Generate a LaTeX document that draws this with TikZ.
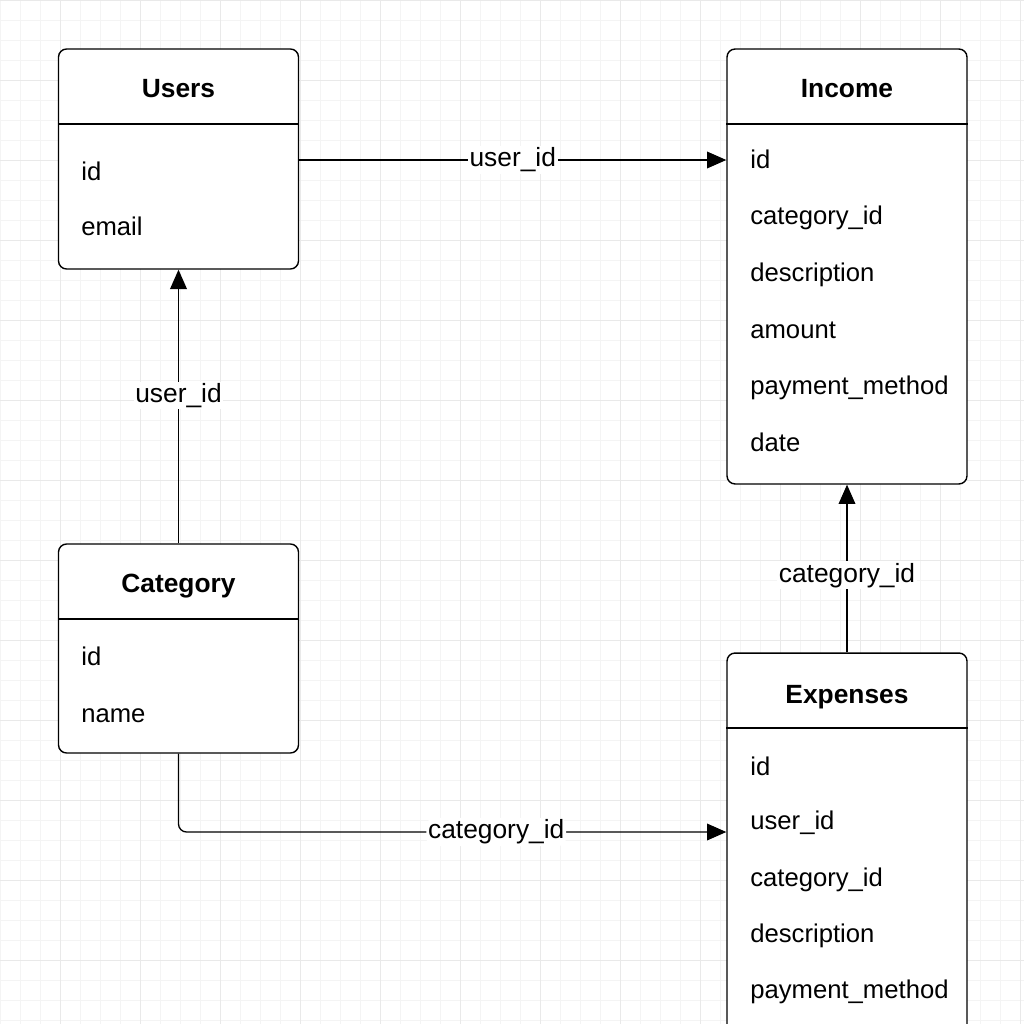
\documentclass[tikz,border=0pt]{standalone}
\usepackage{fontspec}
\setmainfont{Liberation Sans}
\usetikzlibrary{arrows.meta}
\definecolor{gridminor}{HTML}{F4F4F4}
\definecolor{gridmajor}{HTML}{E9E9E9}

\begin{document}
\begin{tikzpicture}[x=0.02cm,y=-0.02cm,
	entity/.style={draw,line width=0.8pt,rounded corners=0.16cm,minimum width=4.8cm,inner sep=0pt},
	title/.style={anchor=base,font=\fontsize{15}{18}\selectfont\bfseries},
	field/.style={anchor=base west,inner sep=0pt,font=\fontsize{14.6}{18}\selectfont},
	link/.style={line width=0.75pt,-{Triangle[length=11pt,width=9.5pt]}},
	key/.style={fill=white,inner sep=1pt,font=\fontsize{15}{18}\selectfont}]
\useasboundingbox (0,0) rectangle (1024,1024);
\clip (0,0) rectangle (1024,1024);
\fill[white] (0,0) rectangle (1024,1024);
\foreach \g in {0,20,...,1020}{
	\draw[gridminor,line width=0.5pt] (\g,0) -- (\g,1024);
	\draw[gridminor,line width=0.5pt] (0,\g) -- (1024,\g);
}
\foreach \g in {60,140,...,1020}
	\draw[gridmajor,line width=0.5pt] (\g,0) -- (\g,1024);
\foreach \g in {0,80,...,1020}
	\draw[gridmajor,line width=0.5pt] (0,\g) -- (1024,\g);

\path (178.5,159) node[entity,fill=white,minimum height=4.4cm](users){}
		(847,266.5) node[entity,fill=white,minimum height=8.7cm](income){}
		(178.5,648.5) node[entity,fill=white,minimum height=4.18cm](category){}
		(847,863) node[entity,fill=white,minimum height=8.4cm](expenses){}
		;
\draw[line width=0.8pt] (users.west |- 0,124) -- (users.east |- 0,124);
\draw[line width=0.8pt] (income.west |- 0,124) -- (income.east |- 0,124);
\draw[line width=0.8pt] (category.west |- 0,619) -- (category.east |- 0,619);
\draw[line width=0.8pt] (expenses.west |- 0,728) -- (expenses.east |- 0,728);

\path (178.5,97) node[title](users title){Users}
		(81,180) node[field](users id){id}
		(81,235) node[field](users email){email}
		;
\path (847,98) node[title](income title){Income}
		(750,168) node[field](income id){id}
		(750,224) node[field](income cat){category\_id}
		(750,281) node[field](income desc){description}
		(750,338) node[field](income amount){amount}
		(750,394) node[field](income pay){payment\_method}
		(750,451) node[field](income date){date}
		;
\path (178.5,592) node[title](category title){Category}
		(81,665) node[field](category id){id}
		(81,722) node[field](category name){name}
		;
\path (847,703) node[title](expenses title){Expenses}
		(750,775) node[field](expenses id){id}
		(750,829) node[field](expenses user){user\_id}
		(750,886) node[field](expenses cat){category\_id}
		(750,942) node[field](expenses desc){description}
		(750,998) node[field](expenses pay){payment\_method}
		;

\draw[link] (users.east |- 0,160) -- (income.west |- 0,160)
	node [midway,key]{user\_id};
\draw[link] (node cs:name=category,anchor=north) -- (node cs:name=users,anchor=south)
	node [pos=0.54,key]{user\_id};
\draw[link] (node cs:name=expenses,anchor=north) -- (node cs:name=income,anchor=south)
	node [pos=0.46,key]{category\_id};
\draw[link,rounded corners=0.16cm] (node cs:name=category,anchor=south) |- (expenses.west |- 0,832)
	node [pos=0.79,key]{category\_id};
\end{tikzpicture}
\end{document}
